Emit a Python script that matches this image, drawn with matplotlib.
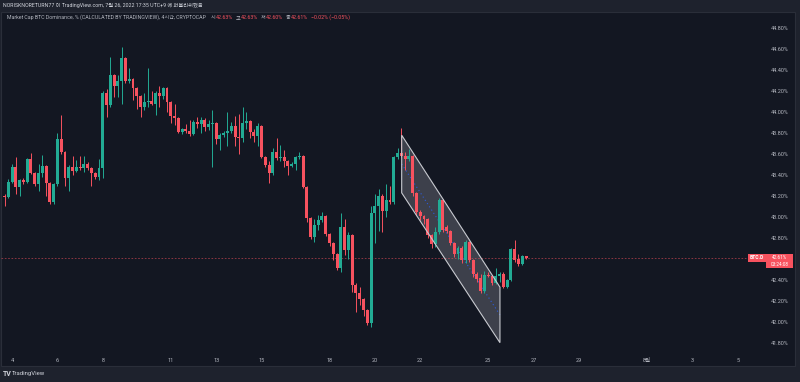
import numpy as np
import matplotlib
matplotlib.use("Agg")
import matplotlib.pyplot as plt
import matplotlib.transforms as mtransforms
from matplotlib.patches import Rectangle, Polygon

BG, PANEL, BORDER = "#1e222d", "#131722", "#2a2e39"
TEXT, TEXT2 = "#d1d4dc", "#b2b5be"
UP, DOWN = "#22ab94", "#f7525f"
plt.rcParams["font.family"] = ["Roboto", "Noto Sans CJK KR", "DejaVu Sans"]

# 4h candles, BTC dominance (%), from Jul 3 20:00 to Jul 26 16:00
opens = [43.20, 43.19, 43.33, 43.48, 43.29, 43.35, 43.33, 43.55, 43.42, 43.31,
         43.42, 43.49, 43.32, 43.14, 43.31, 43.74, 43.62, 43.37, 43.48, 43.44,
         43.48, 43.47, 43.51, 43.47, 43.42, 43.38, 43.47, 44.18, 44.07, 44.35,
         44.25, 44.30, 44.52, 44.30, 44.32, 44.23, 44.15, 44.05, 44.10, 44.11,
         44.08, 44.18, 44.15, 44.23, 44.10, 43.96, 43.94, 43.81, 43.84, 43.82,
         43.79, 43.91, 43.89, 43.93, 43.86, 43.89, 43.90, 43.74, 43.78, 43.80,
         43.82, 43.87, 43.76, 43.75, 43.90, 43.92, 43.81, 43.77, 43.87, 43.57,
         43.50, 43.42, 43.62, 43.56, 43.57, 43.53, 43.49, 43.51, 43.57, 43.58,
         43.29, 42.99, 42.81, 42.92, 42.97, 43.01, 42.84, 42.75, 42.65, 42.51,
         42.90, 42.68, 42.83, 42.35, 42.27, 42.22, 42.11, 41.99, 43.04, 43.10,
         43.20, 43.06, 43.16, 43.14, 43.57, 43.61, 43.58, 43.55, 43.58, 43.23,
         43.05, 43.01, 42.98, 42.83, 42.74, 42.86, 43.16, 42.90, 42.87, 42.75,
         42.65, 42.70, 42.59, 42.76, 42.59, 42.46, 42.42, 42.29, 42.45, 42.44,
         42.37, 42.44, 42.46, 42.33, 42.40, 42.69, 42.60, 42.55, 42.63]
highs = [43.22, 43.36, 43.51, 43.57, 43.36, 43.37, 43.56, 43.61, 43.43, 43.51,
         43.59, 43.50, 43.33, 43.32, 43.80, 43.97, 43.63, 43.50, 43.58, 43.54,
         43.58, 43.58, 43.52, 43.48, 43.43, 43.55, 44.20, 44.22, 44.53, 44.36,
         44.35, 44.62, 44.53, 44.42, 44.33, 44.24, 44.16, 44.18, 44.42, 44.20,
         44.20, 44.25, 44.24, 44.24, 44.11, 44.08, 43.95, 43.85, 43.89, 43.93,
         43.93, 43.95, 43.95, 43.94, 43.93, 44.02, 43.91, 43.80, 43.82, 44.00,
         43.91, 43.96, 43.98, 44.05, 44.00, 43.93, 43.84, 43.90, 43.88, 43.58,
         43.53, 43.66, 43.75, 43.69, 43.64, 43.54, 43.52, 43.58, 43.62, 43.59,
         43.30, 43.00, 42.98, 43.02, 43.05, 43.02, 42.85, 42.76, 42.66, 43.04,
         42.98, 42.86, 42.84, 42.37, 42.33, 42.23, 42.12, 43.10, 43.22, 43.27,
         43.22, 43.31, 43.30, 43.58, 43.66, 43.85, 43.62, 43.65, 43.59, 43.24,
         43.07, 43.02, 42.99, 42.84, 42.90, 43.18, 43.17, 42.92, 42.88, 42.76,
         42.72, 42.72, 42.78, 42.77, 42.60, 42.47, 42.46, 42.48, 42.47, 42.45,
         42.51, 42.47, 42.47, 42.41, 42.70, 42.78, 42.65, 42.64, 42.63]
lows = [43.10, 43.18, 43.32, 43.22, 43.20, 43.31, 43.32, 43.41, 43.30, 43.25,
        43.38, 43.20, 43.12, 43.12, 43.30, 43.60, 43.30, 43.25, 43.40, 43.43,
        43.45, 43.43, 43.45, 43.30, 43.36, 43.35, 43.37, 43.95, 44.05, 44.14,
        44.14, 44.08, 44.28, 44.28, 44.12, 44.03, 43.95, 44.02, 44.05, 44.07,
        43.97, 44.05, 44.13, 44.00, 43.90, 43.88, 43.80, 43.79, 43.80, 43.77,
        43.78, 43.85, 43.80, 43.82, 43.83, 43.48, 43.70, 43.64, 43.76, 43.68,
        43.80, 43.68, 43.60, 43.72, 43.84, 43.75, 43.72, 43.68, 43.56, 43.48,
        43.32, 43.40, 43.54, 43.53, 43.48, 43.40, 43.48, 43.45, 43.55, 43.28,
        42.95, 42.79, 42.76, 42.88, 42.95, 42.82, 42.72, 42.59, 42.49, 42.47,
        42.64, 42.60, 42.28, 42.09, 42.16, 42.05, 41.97, 41.95, 42.75, 42.87,
        42.86, 43.00, 43.12, 43.12, 43.55, 43.57, 43.45, 43.53, 43.20, 43.02,
        42.97, 42.93, 42.80, 42.70, 42.71, 42.84, 42.86, 42.85, 42.73, 42.62,
        42.60, 42.56, 42.56, 42.57, 42.43, 42.38, 42.27, 42.27, 42.43, 42.35,
        42.36, 42.38, 42.32, 42.32, 42.39, 42.57, 42.53, 42.54, 42.60]
closes = [43.19, 43.33, 43.48, 43.29, 43.35, 43.33, 43.55, 43.42, 43.31, 43.42,
          43.49, 43.32, 43.14, 43.31, 43.74, 43.62, 43.37, 43.48, 43.44, 43.48,
          43.47, 43.51, 43.47, 43.42, 43.38, 43.47, 44.18, 44.07, 44.35, 44.25,
          44.30, 44.52, 44.30, 44.32, 44.23, 44.15, 44.05, 44.10, 44.11, 44.08,
          44.18, 44.15, 44.23, 44.10, 43.96, 43.94, 43.81, 43.84, 43.82, 43.79,
          43.91, 43.89, 43.93, 43.86, 43.89, 43.90, 43.74, 43.78, 43.80, 43.82,
          43.87, 43.76, 43.75, 43.90, 43.92, 43.81, 43.77, 43.87, 43.57, 43.50,
          43.42, 43.62, 43.56, 43.57, 43.53, 43.49, 43.51, 43.57, 43.58, 43.29,
          42.99, 42.81, 42.92, 42.97, 43.01, 42.84, 42.75, 42.65, 42.51, 42.90,
          42.68, 42.83, 42.35, 42.27, 42.22, 42.11, 41.99, 43.04, 43.10, 43.20,
          43.06, 43.16, 43.14, 43.57, 43.61, 43.58, 43.55, 43.58, 43.23, 43.05,
          43.01, 42.98, 42.83, 42.74, 42.86, 43.16, 42.88, 42.87, 42.75, 42.65,
          42.70, 42.59, 42.76, 42.59, 42.46, 42.41, 42.29, 42.45, 42.44, 42.37,
          42.44, 42.46, 42.33, 42.40, 42.69, 42.59, 42.55, 42.63, 42.61]

day_labels = ["4", "6", "8", "11", "13", "15", "18", "20", "22", "25", "27",
              "29", "8월", "3", "5"]
day_offsets = [0, 2, 4, 7, 9, 11, 14, 16, 18, 21, 23, 25, 28, 30, 32]  # days after Jul 4
price_ticks = [41.8, 42.0, 42.2, 42.4, 42.6, 42.8, 43.0, 43.2, 43.4, 43.6,
               43.8, 44.0, 44.2, 44.4, 44.6, 44.8]
countdown = "03:24:08"

# parallel channel drawing (candle index, price)
channel_x = [105.1, 131.1]
channel_top = [43.78, 42.33]
channel_bot = [43.23, 41.80]

W, H = 800, 382


def fx(px):
    return px / W


def fy(py):
    return 1 - py / H


fig = plt.figure(figsize=(W / 100, H / 100), dpi=100, facecolor=BG)
fig.patches.append(Rectangle((fx(1), fy(366)), fx(794), (366 - 12) / H,
                             transform=fig.transFigure, facecolor=PANEL,
                             edgecolor=BORDER, lw=0.8, zorder=-5))

ax = fig.add_axes([fx(1), fy(352), fx(765), (352 - 12) / H])
ax.set_zorder(1)
ax.patch.set_alpha(0)
ax.set_xlim(-0.93, 201.5)
ax.set_ylim(41.711, 44.956)

o, h, l, c = map(np.array, (opens, highs, lows, closes))
idx = np.arange(len(o))
cols = np.where(c >= o, UP, DOWN)
ax.vlines(idx, l, h, colors=cols, lw=0.7, zorder=2)
ax.bar(idx, np.maximum(np.abs(c - o), 0.006), bottom=np.minimum(o, c),
       width=0.78, color=cols, lw=0, zorder=2)

# channel: fill behind the candles, outline on top
verts = [(channel_x[0], channel_top[0]), (channel_x[1], channel_top[1]),
         (channel_x[1], channel_bot[1]), (channel_x[0], channel_bot[0])]
ax.add_patch(Polygon(verts, closed=True, facecolor="#787b86", alpha=0.42,
                     edgecolor="none", zorder=1))
ax.add_patch(Polygon(verts, closed=True, facecolor="none",
                     edgecolor="#c8cad0", lw=0.8, zorder=4))
mid = [(a + b) / 2 for a, b in zip(channel_top, channel_bot)]
ax.plot(channel_x, mid, color="#2962ff", lw=0.8, ls=(0, (1, 2.5)), alpha=0.8, zorder=1.5)

# last price line + labels
last = closes[-1]
ax.axhline(last, xmin=0, xmax=(746 - 1) / 765, color=DOWN, lw=0.6,
           ls=(0, (2, 2)), alpha=0.6, zorder=1)
blend = mtransforms.blended_transform_factory(ax.transAxes, ax.transData)
ax.text((764 - 1) / 765, last, "BTC.D", transform=blend, ha="right", va="center",
        fontsize=3.6, color="white", fontweight="bold",
        bbox=dict(boxstyle="square,pad=0.3", fc=DOWN, ec="none"))
fig.patches.append(Rectangle((fx(766), fy(268)), fx(27), 14 / H,
                             transform=fig.transFigure, facecolor=DOWN,
                             edgecolor="none", zorder=5))
fig.text(fx(779.5), fy(261), f"{last:.2f}%\n{countdown}", ha="center", va="center",
         fontsize=3.4, linespacing=1.35, color="white", zorder=6)

# the scale label under the last-price box is hidden, as on the reference
shown = [p for p in price_ticks if abs(p - last) > 0.08]
ax.set_yticks(shown)
ax.set_yticklabels([f"{p:.2f}%" for p in shown])
ax.yaxis.tick_right()
ax.tick_params(axis="y", length=0, pad=3.5, labelsize=4, labelcolor=TEXT2)
ax.set_xticks([2 + 6 * d for d in day_offsets])
ax.set_xticklabels(day_labels)
ax.tick_params(axis="x", length=0, pad=4.5, labelsize=4, labelcolor=TEXT2)
for s in ax.spines.values():
    s.set_visible(False)

# header
fig.text(fx(3), fy(6), "NORISKNORETURN77 이 TradingView.com, 7월 26, 2022 17:35 UTC+9 에 퍼블리쉬했음",
         va="center", fontsize=3.8, color=TEXT)
chg = closes[-1] - closes[-2]
segments = [
    ("Market Cap BTC Dominance, % (CALCULATED BY TRADINGVIEW), 4시간, CRYPTOCAP", TEXT2, 5),
    ("시", TEXT2, 0), (f"{opens[-1]:.2f}%", DOWN, 3),
    ("고", TEXT2, 0), (f"{highs[-1]:.2f}%", DOWN, 3),
    ("저", TEXT2, 0), (f"{lows[-1]:.2f}%", DOWN, 3),
    ("종", TEXT2, 0), (f"{closes[-1]:.2f}%", DOWN, 3),
    (f"{chg:+.2f}% ({chg / closes[-2] * 100:+.2f}%)".replace("-", "−"), DOWN, 0),
]
renderer = fig.canvas.get_renderer()
x = 7
for s, col, gap in segments:
    t = fig.text(fx(x), fy(17.5), s, va="center", fontsize=3.75, color=col)
    x = t.get_window_extent(renderer).x1 + gap

# footer logo
fig.text(fx(3), fy(374), "TV", va="center", fontsize=5, fontweight="bold", color=TEXT)
fig.text(fx(12), fy(374), "TradingView", va="center", fontsize=4.3, color=TEXT)

fig.savefig("out.png", dpi=100, facecolor=BG)
